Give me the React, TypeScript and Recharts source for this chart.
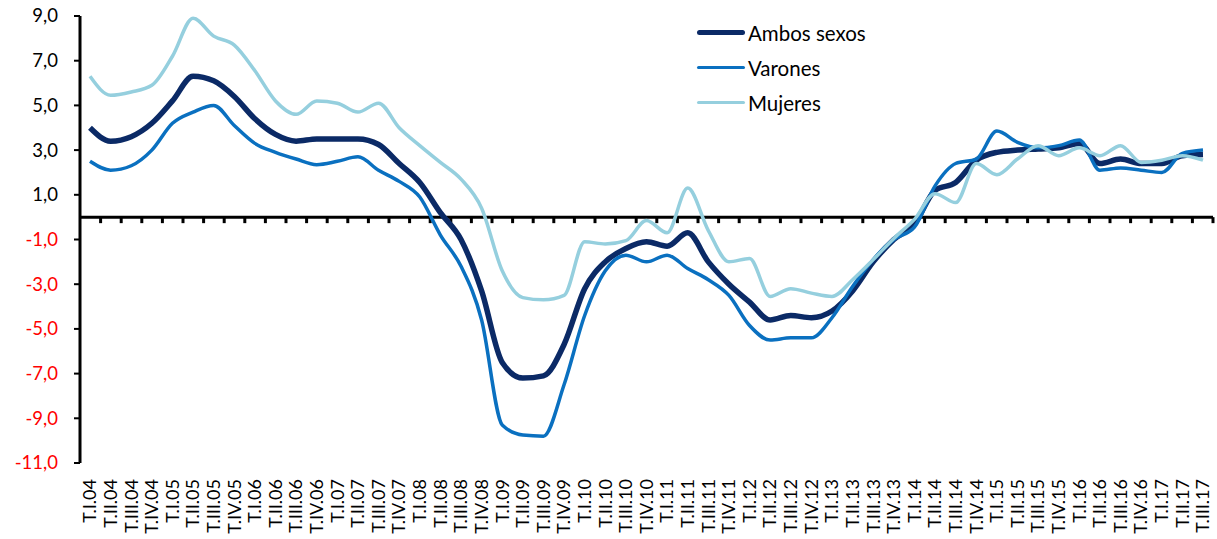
import { LineChart, Line, XAxis, YAxis, ReferenceLine } from 'recharts';

const quarters = [
  'T.I.04', 'T.II.04', 'T.III.04', 'T.IV.04',
  'T.I.05', 'T.II.05', 'T.III.05', 'T.IV.05',
  'T.I.06', 'T.II.06', 'T.III.06', 'T.IV.06',
  'T.I.07', 'T.II.07', 'T.III.07', 'T.IV.07',
  'T.I.08', 'T.II.08', 'T.III.08', 'T.IV.08',
  'T.I.09', 'T.II.09', 'T.III.09', 'T.IV.09',
  'T.I.10', 'T.II.10', 'T.III.10', 'T.IV.10',
  'T.I.11', 'T.II.11', 'T.III.11', 'T.IV.11',
  'T.I.12', 'T.II.12', 'T.III.12', 'T.IV.12',
  'T.I.13', 'T.II.13', 'T.III.13', 'T.IV.13',
  'T.I.14', 'T.II.14', 'T.III.14', 'T.IV.14',
  'T.I.15', 'T.II.15', 'T.III.15', 'T.IV.15',
  'T.I.16', 'T.II.16', 'T.III.16', 'T.IV.16',
  'T.I.17', 'T.II.17', 'T.III.17',
];

const ambos = [
  4.0, 3.4, 3.6, 4.2, 5.2, 6.3, 6.1, 5.4, 4.4, 3.7, 3.4, 3.5,
  3.5, 3.5, 3.25, 2.4, 1.55, 0.2, -1.0, -3.3, -6.5, -7.2, -7.1, -5.7,
  -3.2, -2.0, -1.4, -1.1, -1.3, -0.7, -2.0, -3.0, -3.8, -4.6, -4.4, -4.5,
  -4.2, -3.3, -2.0, -1.0, -0.3, 1.2, 1.55, 2.55, 2.9, 3.0, 3.05, 3.1,
  3.3, 2.4, 2.6, 2.4, 2.4, 2.75, 2.8,
];

const varones = [
  2.5, 2.1, 2.3, 3.0, 4.2, 4.7, 5.0, 4.1, 3.3, 2.9, 2.6, 2.35,
  2.5, 2.7, 2.1, 1.6, 0.9, -0.8, -2.2, -4.6, -9.3, -9.75, -9.8, -7.5,
  -4.4, -2.4, -1.7, -2.0, -1.7, -2.3, -2.8, -3.5, -4.85, -5.5, -5.4, -5.4,
  -4.5, -3.1, -1.9, -1.0, -0.45, 1.4, 2.4, 2.6, 3.85, 3.35, 3.1, 3.2,
  3.45, 2.1, 2.2, 2.1, 2.0, 2.85, 3.0,
];

const mujeres = [
  6.3, 5.45, 5.6, 5.9, 7.2, 8.9, 8.1, 7.7, 6.55, 5.2, 4.6, 5.2,
  5.1, 4.7, 5.1, 4.0, 3.2, 2.45, 1.7, 0.4, -2.4, -3.6, -3.7, -3.5,
  -1.1, -1.2, -1.05, -0.15, -0.7, 1.3, -0.6, -2.0, -1.85, -3.55, -3.2, -3.4,
  -3.55, -2.8, -1.9, -0.95, -0.1, 1.05, 0.65, 2.4, 1.9, 2.6, 3.2, 2.75,
  3.1, 2.75, 3.2, 2.45, 2.55, 2.75, 2.55,
];

const yTicks = [-11, -9, -7, -5, -3, -1, 1, 3, 5, 7, 9];

const seriesInfo = [
  { key: 'ambos', name: 'Ambos sexos', color: '#0b2a66', width: 5.5 },
  { key: 'varones', name: 'Varones', color: '#0a70c0', width: 3.5 },
  { key: 'mujeres', name: 'Mujeres', color: '#95cfde', width: 3.5 },
];

const data = quarters.map((q, i) => ({
  label: q,
  ambos: ambos[i],
  varones: varones[i],
  mujeres: mujeres[i],
}));

const FONT = 'Lato, "Open Sans", sans-serif';

function YTick({ x, y, payload }: any) {
  const v = payload.value as number;
  return (
    <text x={x - 14} y={y} dy="0.35em" textAnchor="end" fontFamily={FONT} fontSize={18.5}
      fill={v < 0 ? '#ff0000' : '#000'}>
      {v.toFixed(1).replace('.', ',')}
    </text>
  );
}

function XTick({ x, y, payload }: any) {
  return (
    <text x={x} y={y + 8} transform={`rotate(-90, ${x}, ${y + 8})`} dy="0.35em"
      textAnchor="end" fontFamily={FONT} fontSize={18} fill="#000">
      {payload.value}
    </text>
  );
}

// zero line with Excel-style tick marks between categories
function ZeroLine(props: any) {
  const { x1, y1, x2, y2 } = props;
  const n = quarters.length;
  const step = (x2 - x1) / n;
  const marks = [];
  for (let k = 1; k <= n; k++) {
    const xx = x1 + k * step;
    marks.push(<line key={k} x1={xx} x2={xx} y1={y1} y2={y1 + 6} stroke="#000" strokeWidth={3} />);
  }
  return (
    <g>
      <line x1={x1} y1={y1} x2={x2} y2={y2} stroke="#000" strokeWidth={3} />
      {marks}
    </g>
  );
}

function LegendBox() {
  return (
    <div style={{ position: 'absolute', left: 697, top: 15, fontFamily: FONT, fontSize: 20.5, color: '#000' }}>
      {seriesInfo.map((s) => (
        <div key={s.key} style={{ display: 'flex', alignItems: 'center', height: 35 }}>
          <span style={{
            display: 'inline-block', width: 48, height: s.width, background: s.color,
            borderRadius: s.width, marginRight: 3,
          }} />
          {s.name}
        </div>
      ))}
    </div>
  );
}

export default function App() {
  return (
    <div style={{ position: 'absolute', left: 0, top: 0, width: 1217, height: 539, background: '#fff' }}>
      <LineChart width={1217} height={539} data={data}
        margin={{ top: 16, right: 4, left: 0, bottom: 0 }}>
        <XAxis dataKey="label" interval={0} height={76} axisLine={false} tickLine={false}
          padding={{ left: 10, right: 10 }} tick={<XTick />} />
        <YAxis domain={[-11, 9]} ticks={yTicks} width={80} interval={0}
          axisLine={{ stroke: '#000', strokeWidth: 3 }}
          tickLine={{ stroke: '#000', strokeWidth: 2 }} tickSize={6} tick={<YTick />} />
        <ReferenceLine y={0} shape={(p: any) => <ZeroLine {...p} />} />
        {seriesInfo.map((s) => (
          <Line key={s.key} type="monotone" dataKey={s.key} name={s.name} stroke={s.color}
            strokeWidth={s.width} dot={false} isAnimationActive={false} />
        ))}
      </LineChart>
      <LegendBox />
    </div>
  );
}
